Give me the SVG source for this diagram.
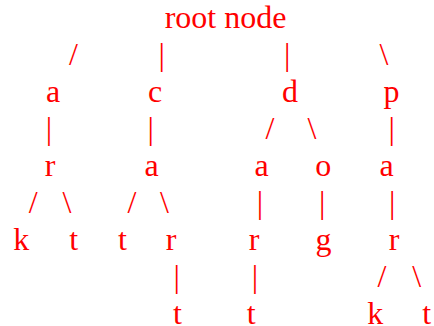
<svg xmlns="http://www.w3.org/2000/svg" width="434" height="326" viewBox="0 0 434 326">
<style>
.t{font-family:"Times New Roman","Liberation Serif",Tinos,"DejaVu Serif",serif;font-size:32px;fill:#ff0000;text-anchor:middle}
</style>
<rect width="434" height="326" fill="#ffffff"/>
<g class="t">
<g id="connectors">
<text x="73.5" y="65">/</text>
<text x="161.7" y="65">|</text>
<text x="287.3" y="65">|</text>
<text x="384" y="65">\</text>
<text x="49" y="139">|</text>
<text x="150.7" y="139">|</text>
<text x="270" y="139">/</text>
<text x="312" y="139">\</text>
<text x="391.7" y="139">|</text>
<text x="33.3" y="213">/</text>
<text x="67" y="213">\</text>
<text x="132" y="213">/</text>
<text x="164.5" y="213">\</text>
<text x="260" y="213">|</text>
<text x="322.3" y="213">|</text>
<text x="392.3" y="213">|</text>
<text x="176.7" y="287">|</text>
<text x="255" y="287">|</text>
<text x="382" y="287">/</text>
<text x="416.7" y="287">\</text>
</g>
<g id="root"><text x="225.5" y="28">root node</text></g>
<g id="n-a"><text x="53" y="102">a</text></g>
<g id="n-c"><text x="155" y="102">c</text></g>
<g id="n-d"><text x="290" y="102">d</text></g>
<g id="n-p"><text x="391.5" y="102">p</text></g>
<g id="n-ar"><text x="50" y="176">r</text></g>
<g id="n-ca"><text x="151.7" y="176">a</text></g>
<g id="n-da"><text x="261.7" y="176">a</text></g>
<g id="n-do"><text x="323.3" y="176">o</text></g>
<g id="n-pa"><text x="386.5" y="176">a</text></g>
<g id="n-ark"><text x="21.3" y="250">k</text></g>
<g id="n-art"><text x="73.8" y="250">t</text></g>
<g id="n-cat"><text x="122.5" y="250">t</text></g>
<g id="n-car"><text x="171" y="250">r</text></g>
<g id="n-dar"><text x="254" y="250">r</text></g>
<g id="n-dog"><text x="323.5" y="250">g</text></g>
<g id="n-par"><text x="394" y="250">r</text></g>
<g id="n-cart"><text x="177.5" y="323.5">t</text></g>
<g id="n-dart"><text x="251.2" y="323.5">t</text></g>
<g id="n-park"><text x="375.3" y="323.5">k</text></g>
<g id="n-part"><text x="426.8" y="323.5">t</text></g>
</g>
</svg>
